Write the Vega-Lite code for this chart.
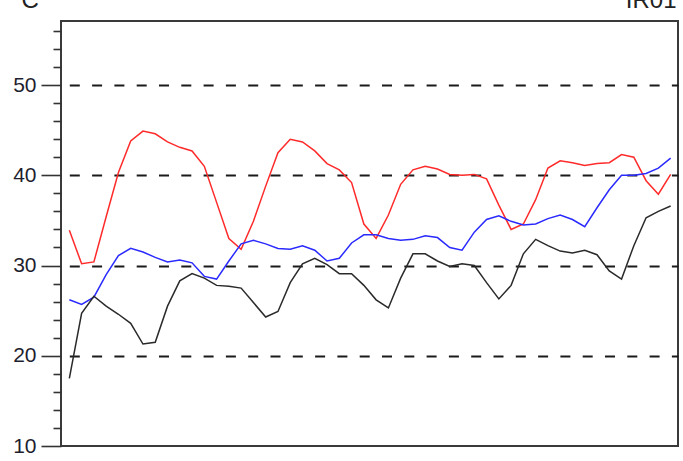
{
  "$schema": "https://vega.github.io/schema/vega-lite/v6.json",
  "autosize": {"type": "none"},
  "width": 617,
  "height": 425,
  "padding": {"left": 61, "top": 21, "right": 5, "bottom": 15},
  "background": "white",
  "config": {
    "font": "Liberation Sans",
    "view": {"stroke": "#3a3a3a", "strokeWidth": 2}
  },
  "datasets": {
    "wide": [
      {"i":0,"r":33.9,"b":26.2,"k":17.5},
      {"i":1,"r":30.2,"b":25.7,"k":24.7},
      {"i":2,"r":30.4,"b":26.5,"k":26.6},
      {"i":3,"r":35.4,"b":29.0,"k":25.5},
      {"i":4,"r":40.3,"b":31.1,"k":24.6},
      {"i":5,"r":43.8,"b":31.9,"k":23.6},
      {"i":6,"r":44.9,"b":31.5,"k":21.3},
      {"i":7,"r":44.6,"b":30.9,"k":21.5},
      {"i":8,"r":43.7,"b":30.4,"k":25.5},
      {"i":9,"r":43.1,"b":30.6,"k":28.3},
      {"i":10,"r":42.7,"b":30.3,"k":29.1},
      {"i":11,"r":41.0,"b":28.8,"k":28.6},
      {"i":12,"r":37.0,"b":28.5,"k":27.8},
      {"i":13,"r":33.0,"b":30.5,"k":27.7},
      {"i":14,"r":31.8,"b":32.4,"k":27.5},
      {"i":15,"r":34.9,"b":32.8,"k":25.9},
      {"i":16,"r":38.8,"b":32.4,"k":24.3},
      {"i":17,"r":42.5,"b":31.9,"k":24.9},
      {"i":18,"r":44.0,"b":31.8,"k":28.1},
      {"i":19,"r":43.7,"b":32.2,"k":30.2},
      {"i":20,"r":42.7,"b":31.7,"k":30.8},
      {"i":21,"r":41.3,"b":30.5,"k":30.1},
      {"i":22,"r":40.6,"b":30.8,"k":29.1},
      {"i":23,"r":39.2,"b":32.5,"k":29.1},
      {"i":24,"r":34.6,"b":33.4,"k":27.8},
      {"i":25,"r":33.0,"b":33.4,"k":26.2},
      {"i":26,"r":35.6,"b":33.0,"k":25.3},
      {"i":27,"r":39.0,"b":32.8,"k":28.6},
      {"i":28,"r":40.6,"b":32.9,"k":31.3},
      {"i":29,"r":41.0,"b":33.3,"k":31.3},
      {"i":30,"r":40.7,"b":33.1,"k":30.5},
      {"i":31,"r":40.1,"b":32.0,"k":29.9},
      {"i":32,"r":40.0,"b":31.7,"k":30.2},
      {"i":33,"r":40.1,"b":33.7,"k":30.0},
      {"i":34,"r":39.6,"b":35.1,"k":28.1},
      {"i":35,"r":36.7,"b":35.5,"k":26.3},
      {"i":36,"r":34.0,"b":34.9,"k":27.8},
      {"i":37,"r":34.6,"b":34.5,"k":31.3},
      {"i":38,"r":37.3,"b":34.6,"k":32.9},
      {"i":39,"r":40.8,"b":35.2,"k":32.2},
      {"i":40,"r":41.6,"b":35.6,"k":31.6},
      {"i":41,"r":41.4,"b":35.1,"k":31.4},
      {"i":42,"r":41.1,"b":34.3,"k":31.7},
      {"i":43,"r":41.3,"b":36.4,"k":31.2},
      {"i":44,"r":41.4,"b":38.4,"k":29.4},
      {"i":45,"r":42.3,"b":40.0,"k":28.5},
      {"i":46,"r":42.0,"b":40.0,"k":32.2},
      {"i":47,"r":39.4,"b":40.2,"k":35.3},
      {"i":48,"r":37.9,"b":40.8,"k":36.0},
      {"i":49,"r":40.1,"b":41.9,"k":36.6}
    ]
  },
  "data": {"name": "wide"},
  "transform": [
    {"fold": ["r", "b", "k"], "as": ["series", "value"]}
  ],
  "mark": {"type": "line", "strokeWidth": 1.5, "clip": true},
  "encoding": {
    "x": {
      "field": "i",
      "type": "quantitative",
      "scale": {"domain": [-0.68, 49.6], "nice": false, "zero": false},
      "axis": {
        "orient": "top",
        "domain": false,
        "ticks": false,
        "labels": false,
        "grid": false,
        "title": "IR01",
        "titleFont": "Liberation Sans",
        "titleFontSize": 24,
        "titleFontWeight": "normal",
        "titleColor": "#222",
        "titleAlign": "right",
        "titleAnchor": "end",
        "titleBaseline": "alphabetic",
        "titleX": 615,
        "titleY": -14
      }
    },
    "y": {
      "field": "value",
      "type": "quantitative",
      "scale": {"domain": [10, 57.1], "nice": false, "zero": false},
      "axis": {
        "values": [10,12,14,16,18,20,22,24,26,28,30,32,34,36,38,40,42,44,46,48,50,52,54,56],
        "tickSize": {"condition": {"test": "datum.value % 10 === 0", "value": 20}, "value": 8},
        "tickColor": "#333",
        "tickWidth": 1.6,
        "domain": false,
        "labelExpr": "datum.value % 10 === 0 ? datum.label : ''",
        "labelFont": "Liberation Sans",
        "labelFontSize": 21,
        "labelColor": "#1e1e2e",
        "labelPadding": 5,
        "labelFlush": false,
        "labelOverlap": false,
        "grid": true,
        "gridColor": "#1a1a1a",
        "gridWidth": 1.8,
        "gridDash": [10, 12.3],
        "gridDashOffset": 14,
        "gridOpacity": {"condition": {"test": "datum.value % 10 === 0 && datum.value > 10", "value": 1}, "value": 0},
        "title": "C",
        "titleFont": "Liberation Sans",
        "titleFontSize": 24,
        "titleFontWeight": "normal",
        "titleColor": "#222",
        "titleAngle": 0,
        "titleAlign": "left",
        "titleBaseline": "alphabetic",
        "titleX": -40,
        "titleY": -14
      }
    },
    "color": {
      "field": "series",
      "type": "nominal",
      "scale": {"domain": ["r", "b", "k"], "range": ["#ff2a2a", "#2a2aff", "#2a2a2a"]},
      "legend": null
    },
    "order": {"field": "i", "type": "quantitative"}
  }
}
